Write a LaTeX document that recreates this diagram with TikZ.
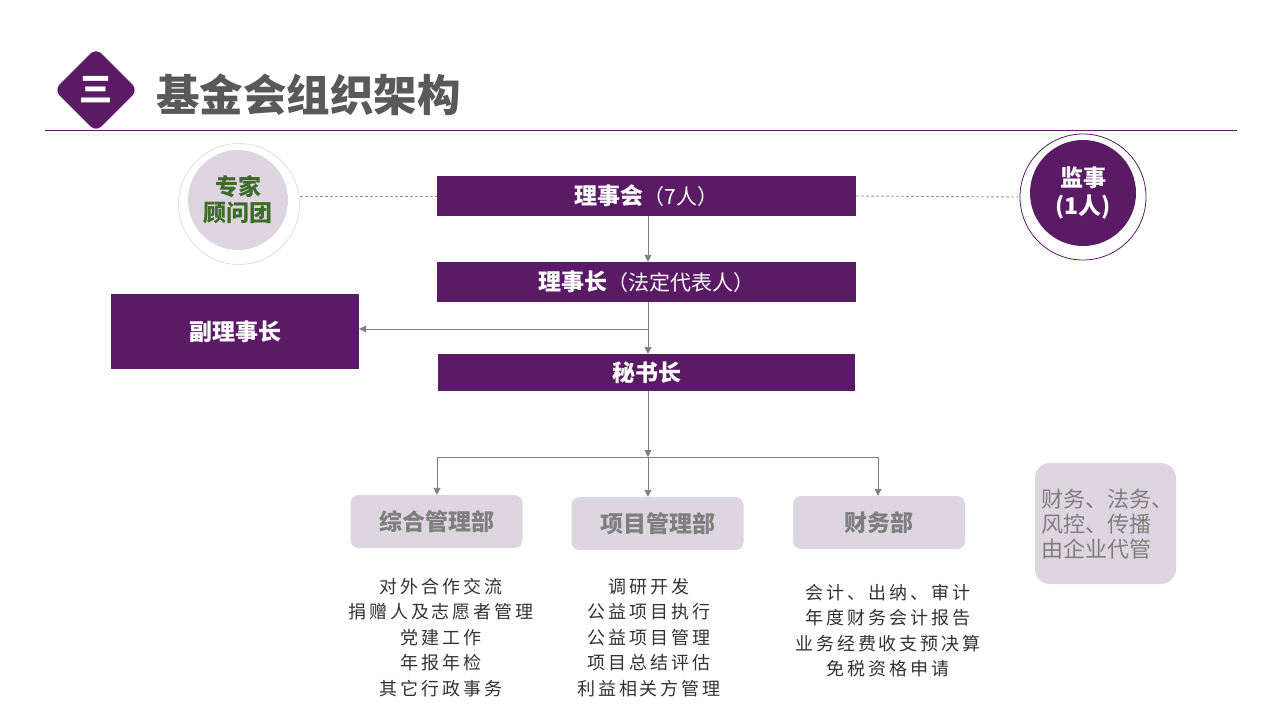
\documentclass[tikz,border=0pt]{standalone}
\usepackage{fontspec}
\setmainfont{Noto Sans CJK SC}
\newfontfamily\listfont[LetterSpace=16]{Noto Sans CJK SC}
\usetikzlibrary{arrows.meta,shapes.geometric}
\definecolor{purp}{HTML}{5B1A66}
\definecolor{lilac}{HTML}{DDD5E0}
\definecolor{arrowgray}{HTML}{7F7F7F}
\definecolor{titlegray}{HTML}{595959}
\definecolor{deptgray}{HTML}{7F7F7F}
\definecolor{listgray}{HTML}{333333}
\definecolor{greentext}{HTML}{3F6B2A}
\tikzset{
  pbox/.style={fill=purp, draw=none, text=white, font=\fontsize{23}{26}\selectfont\bfseries, inner sep=0pt},
  dept/.style={fill=lilac, draw=none, rounded corners=8pt, minimum width=172pt, minimum height=53pt, text=deptgray, font=\fontsize{23}{26}\selectfont\bfseries, inner sep=0pt},
  listtext/.style={text=listgray, font=\listfont\fontsize{18}{25.5}\selectfont, align=center, inner sep=0pt},
  conn/.style={draw=arrowgray, line width=0.9pt},
  arr/.style={conn, -{Triangle[width=7pt,length=7pt]}},
  dashln/.style={draw=arrowgray!80, line width=0.9pt, dash pattern=on 3pt off 2pt}
}
\begin{document}
\begin{tikzpicture}[x=1pt,y=-1pt]
\useasboundingbox (0,0) rectangle (1280,720);
% header
\node[diamond, fill=purp, minimum width=84pt, minimum height=84pt, rounded corners=8pt, inner sep=0pt] (dia) at (96,90) {};
\node[text=white, font=\fontsize{33}{33}\selectfont\bfseries] (san) at (96,90) {三};
\node[anchor=west, text=titlegray, font=\fontsize{43.5}{44}\selectfont\bfseries, inner sep=0pt] (title) at (156,95) {基金会组织架构};
\coordinate (hl) at (45,130);
\coordinate (hr) at (1237,130);
\draw[purp, line width=1pt] (hl) -- (hr);
% left circle
\node[circle, draw=black!12, fill=white, line width=0.8pt, minimum size=121pt] (expo) at (239,204) {};
\node[circle, fill=lilac, minimum size=100pt, text=greentext, font=\fontsize{23}{26}\selectfont\bfseries, align=center, inner sep=0pt] (exp) at (238,200) {专家\\顾问团};
% right circle
\node[circle, draw=purp, fill=white, line width=0.8pt, minimum size=126pt] (supo) at (1083,197) {};
\node[circle, fill=purp, minimum size=106pt, text=white, font=\fontsize{23}{28}\selectfont\bfseries, align=center, inner sep=0pt] (sup) at (1083,193) {监事\\(1人)};
% purple boxes
\node[pbox, minimum width=419pt, minimum height=40pt] (board) at (646.5,196) {理事会\mdseries\fontsize{21}{26}\selectfont（7人）};
\node[pbox, minimum width=419pt, minimum height=40pt] (chair) at (646.5,282) {理事长\mdseries\fontsize{21}{26}\selectfont（法定代表人）};
\node[pbox, minimum width=248pt, minimum height=75pt] (vice) at (235,331.5) {副理事长};
\node[pbox, minimum width=417pt, minimum height=37pt] (sec) at (646.5,372.5) {秘书长};
% dashed links
\draw[dashln] (expo.east |- board.west) -- (board.west);
\draw[dashln] (board.east) -- (supo.west);
% vertical chain
\draw[arr] (board.south -| 648,0) -- (chair.north -| 648,0);
\coordinate (vj) at (648,329);
\draw[conn] (chair.south -| vj) -- (vj);
\draw[arr] (vj) -- (vice.east |- vj);
\draw[arr] (vj) -- (sec.north -| vj);
\coordinate (bj) at (648,457);
\draw[arr] (sec.south -| bj) -- (bj);
% departments
\node[dept] (d1) at (436.5,521.5) {综合管理部};
\node[dept] (d2) at (657.5,523.5) {项目管理部};
\node[dept] (d3) at (879,522.5) {财务部};
\coordinate (bl) at (437,457);
\coordinate (br) at (878,457);
\draw[conn] (bl) -- (br);
\draw[arr] (bl) -- (bl |- d1.north);
\draw[arr] (bj) -- (bj |- d2.north);
\draw[arr] (br) -- (br |- d3.north);
% lists
\node[listtext, anchor=north] (l1) at (441,578) {对外合作交流\\捐赠人及志愿者管理\\党建工作\\年报年检\\其它行政事务};
\node[listtext, anchor=north] (l2) at (649,578) {调研开发\\公益项目执行\\公益项目管理\\项目总结评估\\利益相关方管理};
\node[listtext, anchor=north] (l3) at (888,584) {会计、出纳、审计\\年度财务会计报告\\业务经费收支预决算\\免税资格申请};
% side note
\node[fill=lilac, rounded corners=15pt, minimum width=141pt, minimum height=121pt, inner sep=0pt] (note) at (1105.5,523.5) {};
\node[text=deptgray, font=\fontsize{22}{25}\selectfont, align=left, anchor=north west, inner sep=0pt] (notet) at (1041,489) {财务、法务、\\风控、传播\\由企业代管};
\end{tikzpicture}
\end{document}
